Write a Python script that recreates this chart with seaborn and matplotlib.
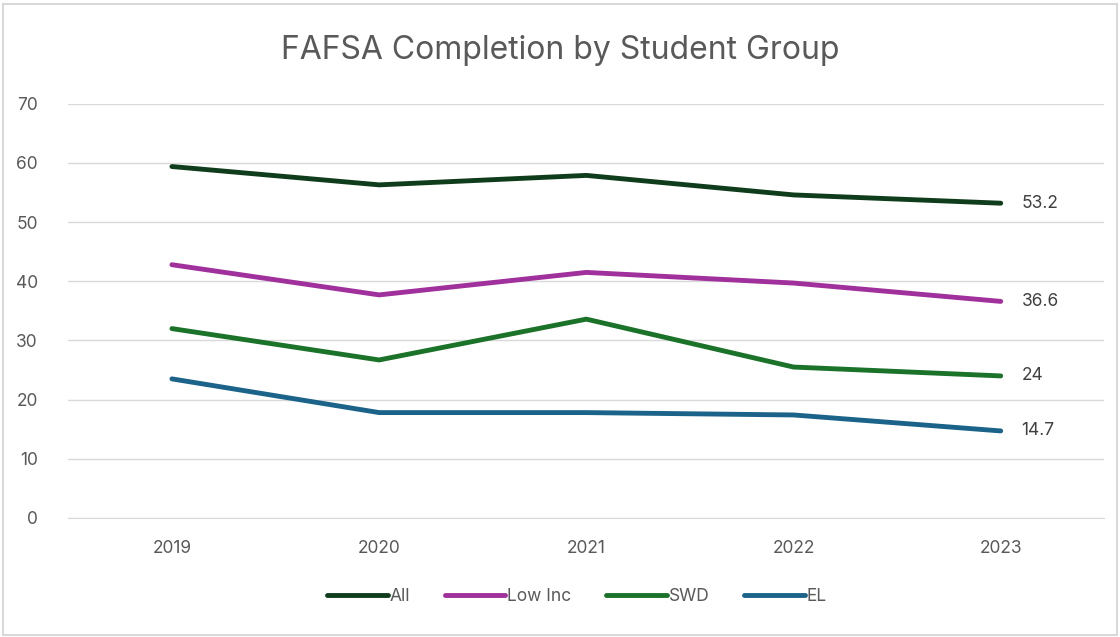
import pandas as pd
import matplotlib.pyplot as plt
import seaborn as sns

years = ['2019', '2020', '2021', '2022', '2023']
all_vals = [59.4, 56.3, 57.9, 54.6, 53.2]
low_inc = [42.8, 37.7, 41.5, 39.7, 36.6]
swd = [32.0, 26.7, 33.6, 25.5, 24.0]
el = [23.5, 17.8, 17.8, 17.4, 14.7]
groups = ['All', 'Low Inc', 'SWD', 'EL']
colors = ['#0f3d1c', '#a0309c', '#1b7229', '#1c6389']

df = pd.DataFrame({'Year': years * 4,
                   'Group': [g for g in groups for _ in years],
                   'Value': all_vals + low_inc + swd + el})
df['x'] = df['Year'].map({y: i for i, y in enumerate(years)})

sns.set_style('white')
plt.rcParams['font.family'] = ['Inter', 'DejaVu Sans']
fig = plt.figure(figsize=(11.2, 6.37), dpi=100)
ax = fig.add_axes([0.061, 0.187, 0.925, 0.65])

sns.lineplot(data=df, x='x', y='Value', hue='Group', palette=colors,
             hue_order=groups, linewidth=3.5, ax=ax, legend=False,
             solid_capstyle='round')

for g, c in zip(groups, colors):
    v = df[df['Group'] == g]['Value'].iloc[-1]
    ax.text(4.1, v, f'{v:g}', va='center', ha='left', fontsize=12.5, color='#404040')

ax.set_xlim(-0.5, 4.5)
ax.set_ylim(0, 70)
ax.set_yticks(range(0, 71, 10))
ax.set_xticks(range(5))
ax.set_xticklabels(years)
ax.grid(axis='y', color='#d9d9d9', linewidth=1)
ax.set_axisbelow(True)
for s in ['top', 'right', 'left']:
    ax.spines[s].set_visible(False)
ax.spines['bottom'].set_color('#d9d9d9')
ax.tick_params(axis='both', length=0, labelsize=12.5, labelcolor='#595959')
ax.tick_params(axis='y', pad=22)
ax.tick_params(axis='x', pad=16)
ax.set_xlabel('')
ax.set_ylabel('')

handles = [plt.Line2D([0], [0], color=c, lw=3.5, solid_capstyle='round') for c in colors]
fig.legend(handles, groups, loc='lower center', ncol=4, frameon=False,
           bbox_to_anchor=(0.515, 0.025), fontsize=12.5, handlelength=3.5,
           handletextpad=0.1, columnspacing=2.0, labelcolor='#595959')

fig.suptitle('FAFSA Completion by Student Group', fontsize=23, color='#595959', y=0.945)

fig.patches.append(plt.Rectangle((0.003, 0.003), 0.994, 0.99, transform=fig.transFigure,
                                 fill=False, edgecolor='#d9d9d9', linewidth=1.5))
fig.savefig('out.png', dpi=100)
